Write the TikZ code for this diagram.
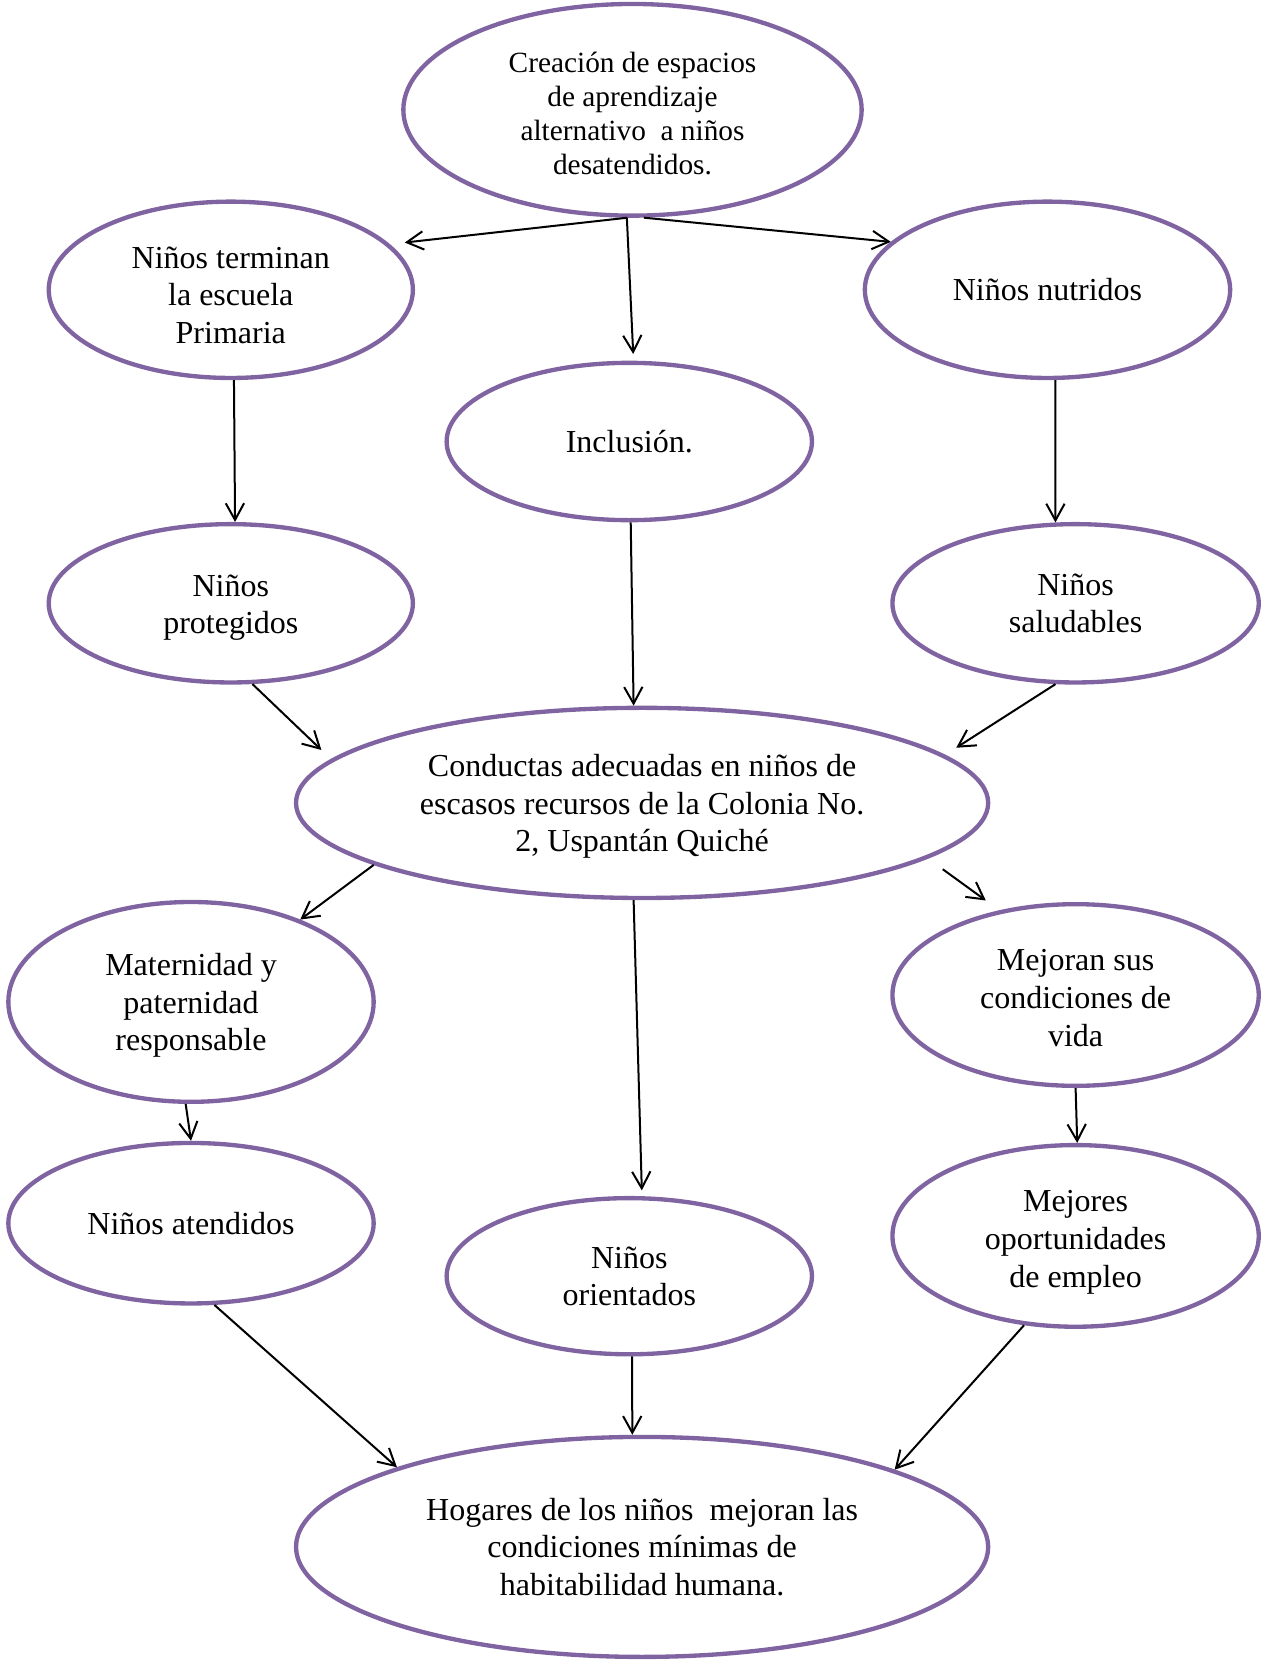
\documentclass[tikz,border=0pt]{standalone}
\usepackage{fontspec}
\setmainfont{Liberation Serif}
\usetikzlibrary{shapes.geometric, arrows.meta}
\definecolor{ovalpurple}{RGB}{128,100,162}

\begin{document}
\begin{tikzpicture}[x=0.6pt, y=-0.6pt,
  oval/.style={ellipse, draw=ovalpurple, line width=2.6pt, inner sep=0pt,
    align=center, font=\fontsize{19.2}{22.6}\selectfont},
  link/.style={-{Straight Barb[length=10pt,width=11pt]}, line width=1.2pt}]

  \useasboundingbox (0,0) rectangle (1263,1664);

  % Ovals
  \node[oval, minimum width=275pt, minimum height=127pt, text height=78.2pt,
    font=\fontsize{17.6}{20.4}\selectfont] (top) at (632.5,109.8)
    {Creación de espacios\\ de aprendizaje\\ alternativo \ a niños\\ desatendidos.};
  \node[oval, minimum width=218.5pt, minimum height=105.8pt, text height=64.6pt] (ter) at (230.8,289.8)
    {Niños terminan\\ la escuela\\ Primaria};
  \node[oval, minimum width=219.2pt, minimum height=105.8pt] (nut) at (1047.5,289.8) {Niños nutridos};
  \node[oval, minimum width=219.2pt, minimum height=94.4pt] (inc) at (629.3,441.5) {Inclusión.};
  \node[oval, minimum width=218.5pt, minimum height=95pt, text height=40.6pt] (pro) at (230.8,603.3) {Niños\\ protegidos};
  \node[oval, minimum width=219.8pt, minimum height=95pt] (sal) at (1075.6,603.3) {Niños\\ saludables};
  \node[oval, minimum width=415.3pt, minimum height=114.1pt, text height=62.7pt] (con) at (642.1,802.9)
    {Conductas adecuadas en niños de\\ escasos recursos de la Colonia No.\\ 2, Uspantán Quiché};
  \node[oval, minimum width=219.2pt, minimum height=119.9pt, text height=62.7pt] (mat) at (191,1001.9)
    {Maternidad y\\ paternidad\\ responsable};
  \node[oval, minimum width=219.8pt, minimum height=109pt, text height=61.7pt] (mej) at (1075.6,995)
    {Mejoran sus\\ condiciones de\\ vida};
  \node[oval, minimum width=219.2pt, minimum height=96.3pt] (ate) at (191,1223.2) {Niños atendidos};
  \node[oval, minimum width=219.2pt, minimum height=93.7pt] (ori) at (629.3,1276.2) {Niños\\ orientados};
  \node[oval, minimum width=219.8pt, minimum height=109pt, text height=65.5pt] (opo) at (1075.6,1235.9)
    {Mejores\\ oportunidades\\ de empleo};
  \node[oval, minimum width=415.3pt, minimum height=132pt] (hog) at (642.1,1546.9)
    {Hogares de los niños \ mejoran las\\ condiciones mínimas de\\ habitabilidad humana.};

  % Arrows
  \draw[link, shorten >=9pt] (top.-93) -- (ter.16);
  \draw[link] (top.-84) -- (nut.163);
  \draw[link, shorten >=4pt] (top.-93) -- (inc.87);
  \draw[link] (ter.-88) -- (pro.87);
  \draw[link] (nut.-85) -- (sal.104);
  \draw[link] (inc.-89) -- (con.95);
  \draw[link, shorten >=8pt] (pro.-75) -- (con.172);
  \draw[link, shorten >=8pt] (sal.-104) -- (con.9);
  \draw[link] (con.193) -- (mat.37);
  \draw[link, shorten <=11pt, shorten >=10pt] (con.-11) -- (mej.132);
  \draw[link, shorten >=3.5pt] (con.-95) -- (ori.81);
  \draw[link] (mat.-93) -- (ate.90);
  \draw[link] (mej.-90) -- (opo.89);
  \draw[link] (ate.-74) -- (hog.162);
  \draw[link] (ori.-88) -- (hog.95);
  \draw[link] (opo.-120) -- (hog.17);

\end{tikzpicture}
\end{document}
